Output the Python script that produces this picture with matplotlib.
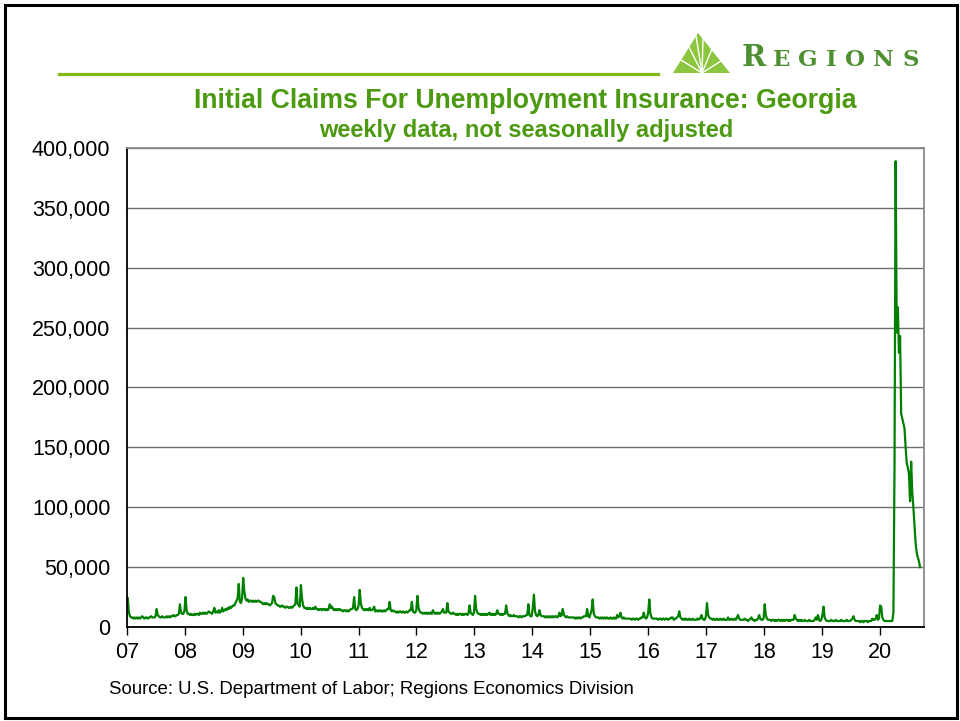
import numpy as np
import pandas as pd
import matplotlib
matplotlib.use('Agg')
import matplotlib.pyplot as plt
from matplotlib.patches import Polygon, Rectangle
from matplotlib.lines import Line2D
from matplotlib.ticker import FuncFormatter

plt.rcParams['font.family'] = ['Liberation Sans', 'DejaVu Sans']

# Georgia initial claims, thousands, weekly (week ending Saturday)
claims_2007 = [24, 12, 9, 8, 8, 7, 8, 7, 8, 7,
               8, 7, 8, 9, 8, 7, 8, 8, 7, 8,
               8, 9, 8, 8, 8, 9, 15, 10, 9, 8,
               8, 9, 8, 8, 8, 9, 8, 9, 8, 9,
               9, 10, 9, 9, 10, 10, 11, 19, 12, 11,
               11, 13]
claims_2008 = [25, 14, 11, 11, 10, 11, 10, 10, 11, 10,
               11, 11, 10, 12, 11, 11, 12, 11, 12, 11,
               12, 13, 12, 12, 11, 13, 16, 12, 13, 12,
               14, 12, 13, 16, 13, 14, 15, 14, 16, 15,
               17, 16, 17, 18, 18, 20, 22, 24, 36, 21,
               20, 24]
claims_2009 = [41, 30, 24, 22, 23, 21, 22, 22, 21, 22,
               21, 22, 21, 22, 22, 21, 21, 20, 19, 20,
               19, 20, 19, 19, 18, 19, 20, 26, 25, 20,
               19, 18, 18, 17, 17, 18, 17, 17, 16, 17,
               17, 16, 16, 17, 16, 17, 18, 19, 33, 20,
               18, 17]
claims_2010 = [35, 24, 18, 16, 16, 15, 16, 15, 16, 15,
               15, 16, 15, 17, 15, 15, 14, 15, 15, 14,
               15, 15, 14, 15, 14, 15, 19, 16, 17, 15,
               14, 15, 14, 15, 14, 15, 14, 14, 13, 14,
               14, 13, 14, 13, 14, 15, 15, 16, 25, 15,
               14, 15]
claims_2011 = [18, 31, 20, 16, 15, 14, 15, 14, 15, 14,
               16, 14, 14, 15, 17, 13, 14, 13, 14, 13,
               14, 13, 13, 14, 13, 14, 15, 15, 21, 14,
               13, 14, 13, 13, 12, 13, 12, 13, 13, 12,
               13, 12, 12, 13, 12, 13, 14, 14, 21, 13,
               12, 12, 14]
claims_2012 = [26, 16, 13, 12, 12, 11, 12, 11, 12, 11,
               12, 11, 12, 11, 14, 12, 11, 12, 11, 12,
               11, 12, 13, 15, 12, 12, 12, 20, 13, 12,
               11, 11, 12, 11, 11, 10, 11, 10, 11, 11,
               10, 11, 10, 11, 11, 10, 11, 18, 12, 11,
               10, 12]
claims_2013 = [26, 15, 12, 11, 11, 10, 11, 10, 11, 10,
               11, 10, 11, 12, 10, 11, 10, 11, 10, 11,
               14, 11, 11, 10, 11, 10, 11, 11, 18, 12,
               10, 9, 10, 9, 9, 10, 9, 9, 9, 8,
               9, 9, 8, 9, 9, 9, 10, 10, 19, 10,
               9, 9]
claims_2014 = [16, 27, 13, 10, 9, 10, 14, 10, 9, 9,
               9, 8, 9, 8, 9, 8, 9, 8, 9, 8,
               9, 9, 8, 9, 12, 9, 10, 15, 10, 9,
               8, 9, 8, 8, 8, 8, 8, 8, 7, 8,
               7, 8, 8, 7, 8, 8, 9, 9, 9, 15,
               9, 8]
claims_2015 = [11, 14, 23, 11, 9, 8, 8, 8, 7, 8,
               7, 8, 7, 8, 7, 8, 7, 7, 8, 7,
               7, 8, 7, 7, 10, 8, 9, 12, 8, 7,
               8, 7, 7, 7, 7, 7, 7, 6, 7, 7,
               6, 7, 7, 6, 7, 7, 8, 8, 12, 8,
               7, 8]
claims_2016 = [12, 23, 11, 8, 7, 7, 7, 7, 7, 6,
               7, 7, 6, 7, 7, 6, 7, 7, 6, 7,
               7, 8, 8, 6, 7, 7, 8, 9, 13, 8,
               7, 6, 7, 6, 7, 6, 6, 7, 6, 6,
               7, 6, 6, 6, 7, 6, 7, 7, 10, 7,
               6, 6, 9]
claims_2017 = [20, 10, 8, 7, 7, 6, 7, 6, 6, 7,
               6, 6, 7, 6, 6, 7, 6, 6, 6, 8,
               6, 6, 7, 6, 6, 7, 6, 8, 10, 7,
               6, 6, 6, 6, 7, 6, 6, 5, 6, 7,
               8, 6, 6, 5, 6, 6, 7, 10, 7, 6,
               6, 7]
claims_2018 = [19, 10, 7, 6, 6, 6, 5, 6, 6, 5,
               6, 5, 6, 6, 5, 6, 5, 6, 5, 6,
               6, 5, 6, 5, 6, 6, 6, 10, 7, 6,
               5, 6, 5, 6, 5, 5, 6, 5, 5, 5,
               6, 5, 5, 5, 5, 6, 8, 6, 10, 6,
               5, 6]
claims_2019 = [10, 17, 8, 6, 5, 5, 5, 5, 6, 5,
               5, 5, 6, 5, 5, 5, 5, 6, 5, 5,
               5, 5, 6, 5, 5, 5, 6, 7, 9, 6,
               5, 5, 5, 5, 4, 5, 5, 4, 5, 5,
               5, 4, 5, 5, 5, 7, 6, 6, 7, 10,
               6, 7]
claims_2020 = [18, 17, 8, 6, 5, 5, 5, 5, 5, 5,
               5, 5, 12, 134, 389, 246, 267, 229, 243, 178,
               174, 170, 166, 150, 137, 133, 128, 105, 138, 112,
               100, 85, 70, 62, 58, 55, 50]

claims = (claims_2007 + claims_2008 + claims_2009 + claims_2010 + claims_2011
          + claims_2012 + claims_2013 + claims_2014 + claims_2015 + claims_2016
          + claims_2017 + claims_2018 + claims_2019 + claims_2020)
weeks = pd.date_range('2007-01-06', periods=len(claims), freq='W-SAT')

years = list(range(2007, 2021))
year_labels = [f'{y % 100:02d}' for y in years]

title = 'Initial Claims For Unemployment Insurance: Georgia'
subtitle = 'weekly data, not seasonally adjusted'
source = 'Source: U.S. Department of Labor; Regions Economics Division'

W, H = 960, 721
title_green = '#4C9A12'
line_green = '#008000'


def fx(x):
    return x / W


def fy(y):
    return 1 - y / H


fig = plt.figure(figsize=(9.6, 7.21), dpi=100)
ax = fig.add_axes([fx(127), fy(627), (924 - 127) / W, (627 - 148) / H])

ax.plot(weeks, np.array(claims) * 1000, color=line_green, lw=1.6)

ax.set_ylim(0, 400000)
ax.set_xlim(pd.Timestamp('2007-01-01'), pd.Timestamp('2020-10-07'))
ax.set_yticks(np.arange(0, 400001, 50000))
ax.yaxis.set_major_formatter(FuncFormatter(lambda v, p: f'{v:,.0f}'))
ax.set_xticks([pd.Timestamp(f'{y}-01-01') for y in years])
ax.set_xticklabels(year_labels)

ax.grid(axis='y', color='#6e6e6e', lw=1)
ax.set_axisbelow(True)
ax.tick_params(axis='y', length=0, pad=12, labelsize=15.5)
ax.tick_params(axis='x', length=6, width=1, direction='out', pad=5, labelsize=15.5)
for side in ['left', 'bottom']:
    ax.spines[side].set_color('black')
    ax.spines[side].set_linewidth(1.3)
for side in ['top', 'right']:
    ax.spines[side].set_color('#8a8a8a')
    ax.spines[side].set_linewidth(1.3)

# titles and source
fig.text(fx(525.5), fy(101), title, ha='center', va='center', fontsize=19.2,
         fontweight='bold', color=title_green)
fig.text(fx(526.5), fy(131), subtitle, ha='center', va='center', fontsize=17,
         fontweight='bold', color=title_green)
fig.text(fx(109), fy(690), source, ha='left', va='center', fontsize=13.4)

# header rule
fig.add_artist(Line2D([fx(59), fx(658)], [fy(74.3), fy(74.3)], lw=2.3,
                      color='#84B819', transform=fig.transFigure))

# logo: triangle with white fan lines
tri = [(673, 73), (698, 33), (730, 73)]
fig.add_artist(Polygon([(fx(x), fy(y)) for x, y in tri], closed=True,
                       facecolor='#8CC63F', edgecolor='none',
                       transform=fig.transFigure))
base = (702, 73)
for tx, ty in [(681, 60), (689, 47), (696, 36), (703, 39), (712, 49), (721, 61)]:
    fig.add_artist(Line2D([fx(base[0]), fx(tx)], [fy(base[1]), fy(ty)], lw=1.0,
                          color='white', transform=fig.transFigure))

logo_green = '#4E8F31'
fig.text(fx(742), fy(66), 'R', ha='left', va='baseline', fontsize=21,
         fontweight='bold', family='DejaVu Serif', color=logo_green)
for ch, xp in zip('EGIONS', [773, 798, 826, 845, 873, 903]):
    fig.text(fx(xp), fy(66), ch, ha='left', va='baseline', fontsize=16.5,
             fontweight='bold', family='DejaVu Serif', color=logo_green)

# outer frame
fig.add_artist(Rectangle((fx(4.5), fy(717.5)), (956.5 - 4.5) / W, (717.5 - 4.5) / H,
                         fill=False, lw=2.2, edgecolor='black',
                         transform=fig.transFigure))

fig.savefig('out.png', dpi=100)
